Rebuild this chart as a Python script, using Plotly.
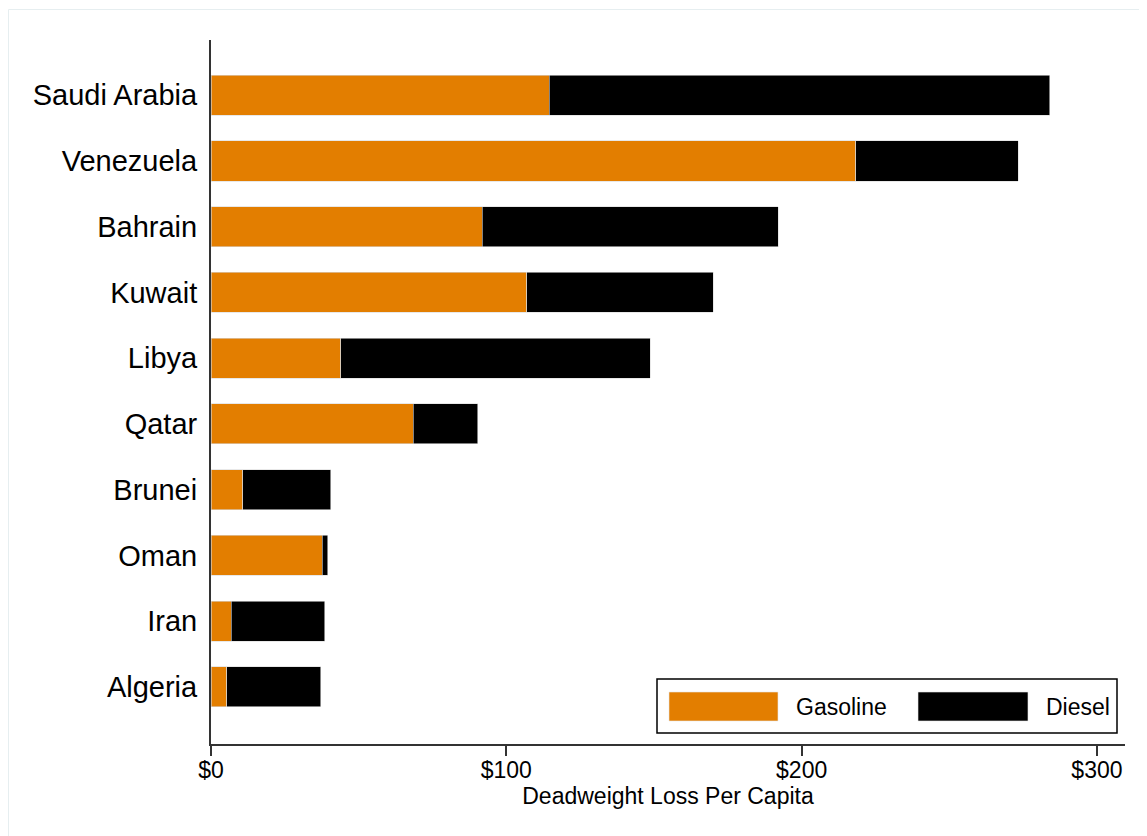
import plotly.graph_objects as go

countries = ["Saudi Arabia", "Venezuela", "Bahrain", "Kuwait", "Libya",
             "Qatar", "Brunei", "Oman", "Iran", "Algeria"]
gasoline = [114.5, 218.4, 91.8, 107.0, 44.0, 68.4, 10.8, 37.6, 6.8, 5.4]
diesel = [169.6, 54.9, 100.2, 63.0, 104.7, 22.0, 29.8, 2.0, 31.8, 31.8]
x_ticks = [0, 100, 200, 300]
x_tick_labels = ["$0", "$100", "$200", "$300"]

ORANGE = "#E37E00"
FONT = "Liberation Sans, Arial, sans-serif"

fig = go.Figure()
fig.add_trace(go.Bar(y=countries, x=gasoline, orientation="h", name="Gasoline",
                     marker=dict(color=ORANGE, line=dict(color="#d9d9d9", width=0.6)),
                     width=0.61))
fig.add_trace(go.Bar(y=countries, x=diesel, orientation="h", name="Diesel",
                     marker=dict(color="#000000", line=dict(color="#d9d9d9", width=0.6)),
                     width=0.61))

OFF = 8  # page body margin
W, H = 1147 - OFF, 836 - OFF
L, R, T, B = 211 - OFF, 22, 40 - OFF, 92
pw, ph = W - L - R, H - T - B

def px(x):
    return (x - OFF - L) / pw

def py(y):
    return (H - B - (y - OFF)) / ph

shapes = [
    dict(type="rect", xref="paper", yref="paper", x0=px(657), x1=px(1117), y0=py(733), y1=py(679),
         line=dict(color="#000000", width=1.5), fillcolor="white", layer="above"),
    dict(type="rect", xref="paper", yref="paper", x0=px(669), x1=px(778), y0=py(721), y1=py(692),
         line=dict(color="#e8e8e8", width=0.6), fillcolor=ORANGE, layer="above"),
    dict(type="rect", xref="paper", yref="paper", x0=px(918), x1=px(1028), y0=py(721), y1=py(692),
         line=dict(color="#e8e8e8", width=0.6), fillcolor="#000000", layer="above"),
    dict(type="line", xref="paper", yref="paper", x0=px(8.5), x1=px(1147), y0=py(9.5), y1=py(9.5),
         line=dict(color="#e6eef0", width=1)),
    dict(type="line", xref="paper", yref="paper", x0=px(8.5), x1=px(8.5), y0=py(9.5), y1=py(836),
         line=dict(color="#e6eef0", width=1)),
]

annotations = [
    dict(text="Gasoline", xref="paper", yref="paper", x=px(794), y=py(707), xanchor="left",
         yanchor="middle", showarrow=False, font=dict(family=FONT, size=23, color="#000")),
    dict(text="Diesel", xref="paper", yref="paper", x=px(1044), y=py(707), xanchor="left",
         yanchor="middle", showarrow=False, font=dict(family=FONT, size=23, color="#000")),
]

fig.update_layout(
    barmode="stack",
    width=W, height=H,
    margin=dict(l=L, r=R, t=T, b=B, pad=0),
    paper_bgcolor="white", plot_bgcolor="white",
    showlegend=False,
    font=dict(family=FONT, color="#000"),
    shapes=shapes,
    annotations=annotations,
    xaxis=dict(range=[0, 309.5], tickvals=x_ticks, ticktext=x_tick_labels,
               showgrid=False, zeroline=False, showline=True, linecolor="#333333", linewidth=2,
               ticks="outside", ticklen=10, tickwidth=1.5, tickcolor="#333333",
               ticklabelstandoff=-6,
               tickfont=dict(size=23, family=FONT, color="#000"),
               title=dict(text="Deadweight Loss Per Capita", standoff=2,
                          font=dict(size=23, family=FONT, color="#000"))),
    yaxis=dict(categoryorder="array", categoryarray=countries,
               range=[9.87, -0.84], showgrid=False, zeroline=False,
               showline=True, linecolor="#333333", linewidth=2, ticks="",
               ticklabelstandoff=6,
               tickfont=dict(size=29, family=FONT, color="#000")),
)

fig.write_html("out.html")
